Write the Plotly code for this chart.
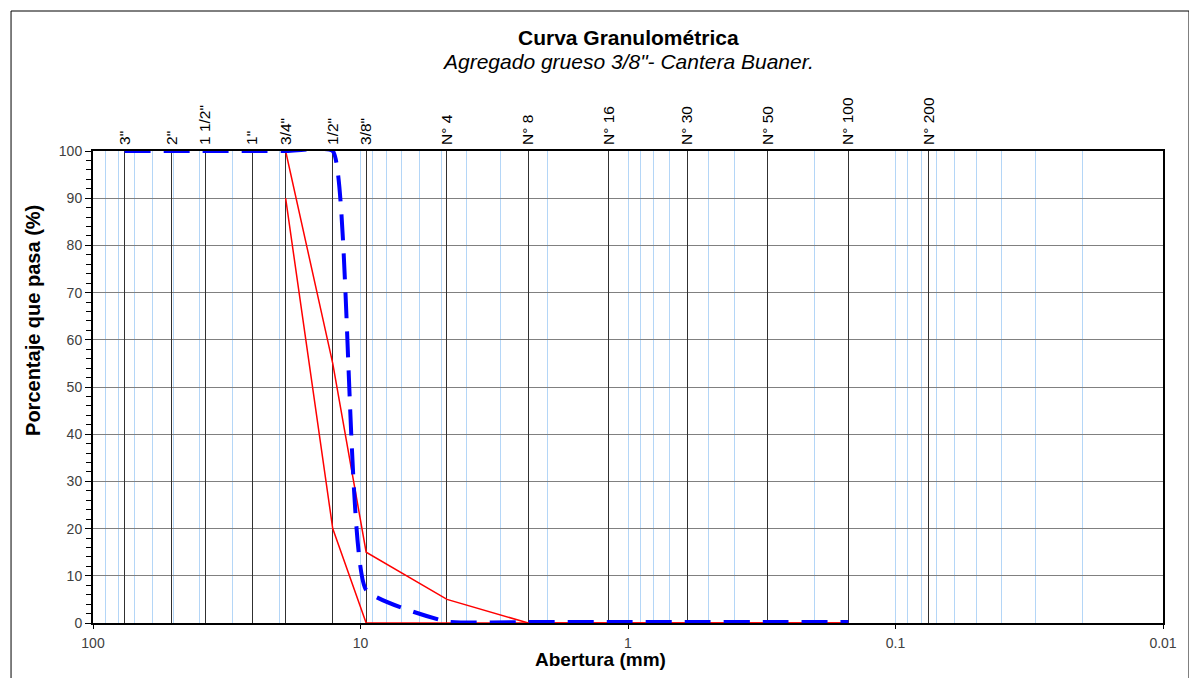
import plotly.graph_objects as go

# --- data -------------------------------------------------------------
sieve_labels = ['3"', '2"', '1 1/2"', '1"', '3/4"', '1/2"', '3/8"',
                'N° 4', 'N° 8', 'N° 16', 'N° 30', 'N° 50', 'N° 100', 'N° 200']
sieve_mm = [76.2, 50.8, 38.1, 25.4, 19.05, 12.7, 9.525,
            4.75, 2.36, 1.18, 0.6, 0.3, 0.15, 0.075]

# sample curve (3" ... N° 100)
muestra_mm = [76.2, 50.8, 38.1, 25.4, 19.05, 12.7, 9.525,
              4.75, 2.36, 1.18, 0.6, 0.3, 0.15]
muestra = [100, 100, 100, 100, 100, 100, 7.0, 0.3, 0.2, 0.2, 0.2, 0.2, 0.2]

# limits (3/4" ... N° 100)
lim_mm = [19.05, 12.7, 9.525, 4.75, 2.36, 1.18, 0.6, 0.3, 0.15]
lim_sup = [100, 55, 15, 5, 0, 0, 0, 0, 0]
lim_inf = [90, 20, 0, 0, 0, 0, 0, 0, 0]

decade_ticks = [100, 10, 1, 0.1, 0.01]
decade_labels = ['100', '10', '1', '0.1', '0.01']
minor_grid = [m * 10.0 ** e for e in range(-2, 2) for m in range(1, 10)] + [100]

FONT = 'Liberation Sans, Arial, sans-serif'

# --- figure -----------------------------------------------------------
fig = go.Figure()

fig.add_trace(go.Scatter(x=lim_mm, y=lim_sup, mode='lines',
                         line=dict(color='#FF0000', width=1.5),
                         name='Límite superior', hoverinfo='x+y'))
fig.add_trace(go.Scatter(x=lim_mm, y=lim_inf, mode='lines',
                         line=dict(color='#FF0000', width=1.5),
                         name='Límite inferior', hoverinfo='x+y'))
fig.add_trace(go.Scatter(x=muestra_mm, y=muestra, mode='lines',
                         line=dict(color='#0000FF', width=4, dash='26px,13px',
                                   shape='spline', smoothing=0.4),
                         name='Muestra', hoverinfo='x+y'))
# invisible trace to carry the top (sieve) axis
fig.add_trace(go.Scatter(x=sieve_mm, y=[None] * len(sieve_mm), xaxis='x2',
                         mode='lines', hoverinfo='skip', showlegend=False))

fig.update_layout(
    width=1189, height=670,
    margin=dict(l=85, r=34, t=143, b=55),
    paper_bgcolor='white', plot_bgcolor='white',
    showlegend=False,
    font=dict(family=FONT, color='#000000'),
    xaxis=dict(
        type='log', range=[2, -2],
        tickmode='array', tickvals=decade_ticks, ticktext=decade_labels,
        ticks='outside', ticklen=4, tickcolor='#000000', tickwidth=1,
        ticklabelstandoff=2,
        showgrid=False, zeroline=False,
        minor=dict(tickmode='array', tickvals=minor_grid, ticks='',
                   showgrid=True, gridcolor='#B4D6F7', gridwidth=1),
        showline=True, linecolor='#000000', linewidth=2, mirror=True,
        tickfont=dict(family=FONT, size=14, color='#404040'),
    ),
    xaxis2=dict(
        type='log', range=[2, -2], overlaying='x', side='top', anchor='y',
        tickmode='array', tickvals=sieve_mm, ticktext=sieve_labels,
        tickangle=-90, ticks='', showline=False, zeroline=False,
        ticklabelstandoff=5,
        showgrid=True, gridcolor='#303030', gridwidth=1,
        tickfont=dict(family=FONT, size=15.5, color='#000000'),
    ),
    yaxis=dict(
        range=[0, 100], tick0=0, dtick=10,
        ticks='outside', ticklen=6, tickcolor='#000000', tickwidth=1,
        minor=dict(dtick=2, ticks='outside', ticklen=5, tickcolor='#000000',
                   showgrid=False),
        showgrid=True, gridcolor='#808080', gridwidth=1, zeroline=False,
        showline=True, linecolor='#000000', linewidth=2, mirror=True,
        tickfont=dict(family=FONT, size=14, color='#404040'),
    ),
    annotations=[
        dict(text='<b>Curva Granulométrica</b>', xref='paper', yref='paper',
             x=0.5, y=1.2415, xanchor='center', yanchor='middle',
             showarrow=False, font=dict(family=FONT, size=21, color='#000000')),
        dict(text='<i>Agregado grueso 3/8"- Cantera Buaner.</i>', xref='paper',
             yref='paper', x=0.5, y=1.1886, xanchor='center', yanchor='middle',
             showarrow=False, font=dict(family=FONT, size=21, color='#000000')),
        dict(text='<b>Abertura (mm)</b>', xref='paper', yref='paper',
             x=0.4743, y=-0.078, xanchor='center', yanchor='middle',
             showarrow=False, font=dict(family=FONT, size=19, color='#000000')),
        dict(text='<b>Porcentaje que pasa (%)</b>', xref='paper', yref='paper',
             x=-0.0561, y=0.642, xanchor='center', yanchor='middle', textangle=-90,
             showarrow=False, font=dict(family=FONT, size=20, color='#000000')),
    ],
    shapes=[
        dict(type='rect', xref='paper', yref='paper',
             x0=-0.0766, x1=1.0243, y0=-0.25, y1=1.2966,
             line=dict(color='#000000', width=1), fillcolor='rgba(0,0,0,0)',
             layer='below'),
    ],
)

fig.write_html('out.html')
